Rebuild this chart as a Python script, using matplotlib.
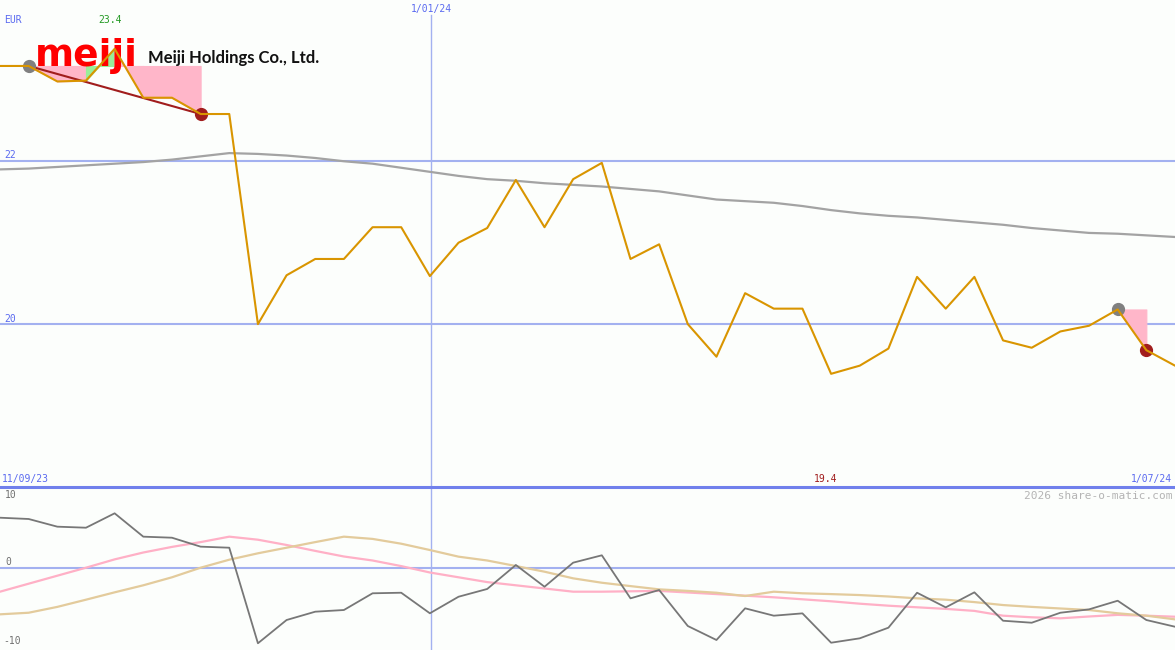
import matplotlib
matplotlib.use("Agg")
import matplotlib.pyplot as plt
import numpy as np

# weekly closes (EUR), 11/09/23 .. 1/07/24
price = [23.17, 23.17, 22.98, 22.99, 23.38, 22.78, 22.78, 22.58, 22.58, 20.00,
         20.60, 20.80, 20.80, 21.19, 21.19, 20.59, 21.00, 21.18, 21.77, 21.19,
         21.78, 21.98, 20.80, 20.98, 20.00, 19.60, 20.38, 20.19, 20.19, 19.39,
         19.49, 19.70, 20.58, 20.19, 20.58, 19.80, 19.71, 19.91, 19.98, 20.18,
         19.68, 19.49]

# long moving average
ma = [21.90, 21.91, 21.93, 21.95, 21.97, 21.99, 22.02, 22.06, 22.10, 22.09,
      22.07, 22.04, 22.00, 21.97, 21.92, 21.87, 21.82, 21.78, 21.76, 21.73,
      21.71, 21.69, 21.66, 21.63, 21.58, 21.53, 21.51, 21.49, 21.45, 21.40,
      21.36, 21.33, 21.31, 21.28, 21.25, 21.22, 21.18, 21.15, 21.12, 21.11,
      21.09, 21.07]

# lower panel oscillators
osc = [6.25, 6.09, 5.13, 5.00, 6.80, 3.88, 3.75, 2.63, 2.50, -9.45,
       -6.54, -5.50, -5.29, -3.20, -3.13, -5.70, -3.63, -2.66, 0.34, -2.38,
       0.63, 1.55, -3.83, -2.79, -7.29, -9.04, -5.08, -6.00, -5.71, -9.38,
       -8.83, -7.50, -3.13, -4.96, -3.08, -6.63, -6.88, -5.63, -5.21, -4.13,
       -6.54, -7.38]
pink_line = [-3.0, -2.0, -1.0, 0.0, 1.04, 1.9, 2.6, 3.2, 3.88, 3.5,
             2.84, 2.1, 1.4, 0.9, 0.2, -0.6, -1.2, -1.8, -2.2, -2.6,
             -3.0, -3.0, -2.95, -2.9, -3.1, -3.3, -3.5, -3.7, -3.95, -4.2,
             -4.5, -4.75, -4.95, -5.15, -5.4, -6.0, -6.2, -6.33, -6.1, -5.9,
             -6.0, -6.13]
tan_line = [-5.83, -5.63, -4.9, -4.0, -3.08, -2.2, -1.2, 0.0, 1.0, 1.8,
            2.5, 3.2, 3.88, 3.6, 3.0, 2.21, 1.38, 0.9, 0.21, -0.5,
            -1.33, -1.88, -2.3, -2.71, -2.9, -3.13, -3.54, -3.0, -3.2, -3.3,
            -3.42, -3.6, -3.83, -4.0, -4.3, -4.67, -4.9, -5.1, -5.29, -5.7,
            -6.0, -6.46]

# signal segments (start index, end index)
signals = [(1, 7), (39, 40)]
jan1_pos = 15.04

W, H = 1175, 650
bg = "#fcfefc"
blue_lt = "#a3b1f0"
blue = "#5a6af0"
orange = "#d99500"

x = np.arange(len(price))

fig = plt.figure(figsize=(W / 100, H / 100), dpi=100, facecolor=bg)
split = 487
ax1 = fig.add_axes([0, (H - split) / H, 1, split / H])
ax2 = fig.add_axes([0, 0, 1, (H - split) / H])
for ax in (ax1, ax2):
    ax.set_facecolor(bg)
    ax.set_xlim(0, len(price) - 1)
    ax.axis("off")
ax1.set_ylim(18.0, 23.98)
ax2.set_ylim(-10.29, 10.09)

# grid
for lv in (20, 22):
    ax1.axhline(lv, color=blue_lt, lw=1.5, zorder=1)
ax1.axvline(jan1_pos, ymax=1 - 15 / split, color=blue_lt, lw=1, zorder=1)
ax2.axvline(jan1_pos, color=blue_lt, lw=1, zorder=1)
ax2.axhline(0, color=blue_lt, lw=1.5, zorder=1)

# signal fills
for s, e in signals:
    level = price[s]
    for i in range(s, e):
        up = price[i + 1] > price[i] + 0.05
        c = "#99ee99" if up else "#ffb6c9"
        ax1.fill_between([i, i + 1], [level, level], [price[i], price[i + 1]],
                         facecolor=c, edgecolor=c, lw=0.8, zorder=2)
    if e - s > 1:
        ax1.plot([s, e], [price[s], price[e]], color="#a11d1d", lw=1.5, zorder=4)
    ax1.plot(s, price[s], "o", color="#808080", ms=8.5, zorder=5)
    ax1.plot(e, price[e], "o", color="#a11d1d", ms=8.5, zorder=5)

# logo (inside ax1 so the price line is drawn over it)
ax1.text(35 / W, 1 - 66 / H, "meiji", color="#ff0000", fontsize=27,
         fontweight="bold", family="DejaVu Sans", va="baseline", zorder=3,
         transform=fig.transFigure)
ax1.text(148 / W, 1 - 63 / H, "Meiji Holdings Co., Ltd.", color="#111111",
         fontsize=12, fontweight="bold", family="Lato", va="baseline",
         zorder=3, transform=fig.transFigure)

ax1.plot(x, ma, color="#a3a3a3", lw=1.6, zorder=3)
ax1.plot(x, price, color=orange, lw=1.5, zorder=6)

ax2.plot(x, pink_line, color="#ffb0c6", lw=1.6, zorder=2)
ax2.plot(x, tan_line, color="#e3cb9c", lw=1.6, zorder=2)
ax2.plot(x, osc, color="#777777", lw=1.3, zorder=3)

# separator
fig.add_artist(plt.Line2D([0, 1], [1 - split / H, 1 - split / H], color="#7080ec", lw=2.2))

mono = "DejaVu Sans Mono"
def label(px, py, s, color, ha="left", size=7):
    fig.text(px / W, 1 - py / H, s, color=color, ha=ha, va="center",
             fontsize=size, family=mono)

label(4, 20, "EUR", blue)
label(110, 20, "23.4", "#229922", ha="center")
label(431, 9, "1/01/24", blue, ha="center")
label(4, 155, "22", blue)
label(4, 319, "20", blue)
label(2, 479, "11/09/23", blue)
label(826, 479, "19.4", "#a11d1d", ha="center")
label(1172, 479, "1/07/24", blue, ha="right")
label(1172, 496, "2026 share-o-matic.com", "#b4b4b4", ha="right", size=8)
label(5, 495, "10", "#707070")
label(5, 562, "0", "#707070")
label(3, 641, "-10", "#707070")

fig.savefig("out.png", dpi=100, facecolor=bg)
